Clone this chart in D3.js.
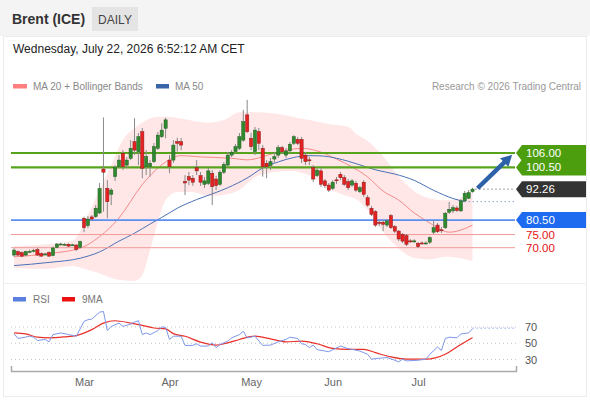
<!DOCTYPE html>
<html>
<head>
<meta charset="utf-8">
<title>Brent (ICE) daily</title>
<script src="https://cdn.jsdelivr.net/npm/d3@7"></script>
<style>
  body { margin: 0; background: #fff; }
  svg { display: block; font-family: "Liberation Sans", Arial, sans-serif; }
</style>
</head>
<body>
<svg id="chart" width="590" height="400"></svg>
<script>
// month labels and the bar number where each month starts
var months = ["Mar", "Apr", "May", "Jun", "Jul"];
var monthBars = [18, 40, 61, 82, 104];

// daily candles, one per trading day (Feb 4 .. Jul 21)
var opens = [67.2,68.5,68.1,67.2,68.5,68.9,69.3,67.8,67.5,68.2,
  67.0,70.1,71.3,71.2,71.3,71.0,71.0,70.1,81.2,78.4,
  81.7,81.8,83.2,99.9,92.6,90.3,97.0,100.8,105.9,101.4,
  104.0,110.3,106.5,114.1,100.8,100.8,102.7,107.8,112.2,115.4,
  103.3,103.3,110.3,110.3,95.2,97.0,96.4,100.4,97.4,94.1,
  94.5,98.3,96.1,94.1,98.7,101.4,105.2,106.5,107.8,110.9,
  120.5,111.6,106.5,114.1,107.8,102.1,101.2,103.7,105.2,108.0,
  105.2,106.8,109.7,111.2,111.2,105.2,103.4,100.4,97.4,99.2,
  95.4,93.8,92.6,95.8,97.9,96.6,95.1,93.8,94.5,91.3,
  94.9,89.0,85.0,83.7,79.6,79.7,78.6,82.2,78.0,76.3,
  75.1,74.6,72.6,72.5,71.7,71.8,71.7,72.1,75.9,78.6,
  76.8,77.6,83.5,84.0,85.1,84.0,87.8,88.8,91.3];
var highs = [69.8,69.0,68.6,68.9,69.3,69.6,70.0,68.2,68.1,68.6,
  70.4,71.8,71.9,71.7,71.7,71.5,71.4,72.7,81.8,82.1,
  82.4,86.2,94.6,119.5,95.7,92.7,101.4,105.2,107.1,104.5,
  110.9,119.2,113.6,115.5,107.1,103.3,109.8,114.0,117.3,119.4,
  105.2,110.9,111.8,111.7,97.6,98.8,97.6,103.3,98.8,96.9,
  100.3,99.5,97.3,99.5,102.6,106.4,107.1,109.4,113.6,122.4,
  126.2,113.6,115.9,115.5,109.0,103.3,104.1,106.4,109.0,108.7,
  107.9,110.2,112.8,112.1,112.1,106.4,104.6,101.4,100.3,100.3,
  96.1,94.6,95.7,96.9,98.8,97.6,96.1,96.1,95.4,93.5,
  95.7,90.0,85.9,84.3,80.5,80.5,80.9,82.8,78.6,76.7,
  75.6,75.2,73.3,73.2,72.2,72.4,72.4,74.4,80.2,79.4,
  77.9,83.6,87.4,86.2,85.9,88.5,91.6,91.9,92.8];
var lows = [66.5,66.8,66.4,66.9,68.0,68.2,66.9,66.5,67.1,66.5,
  66.7,69.8,70.9,70.8,70.3,70.7,68.7,69.8,75.9,77.5,
  80.2,81.3,82.8,83.7,81.2,86.2,95.4,100.3,99.5,100.3,
  103.3,105.2,101.4,96.4,97.6,97.0,102.2,107.1,111.7,111.6,
  98.3,102.2,106.5,107.1,90.0,93.8,93.5,97.6,93.5,92.7,
  93.8,86.2,91.9,93.5,98.0,100.7,104.5,106.0,107.1,110.2,
  113.6,107.1,105.2,107.1,97.0,96.4,99.5,102.2,104.1,105.6,
  104.1,106.0,109.0,109.0,102.2,101.4,101.4,95.0,96.9,93.1,
  92.7,91.2,91.9,94.2,95.7,93.5,91.9,93.1,91.2,90.8,
  89.3,85.5,82.1,77.9,78.2,76.3,77.9,77.1,75.6,72.5,
  71.8,70.6,71.8,71.8,69.9,71.2,71.2,71.4,75.2,75.6,
  75.6,77.1,82.8,83.2,83.6,83.6,87.4,88.5,90.9];
var closes = [69.1,67.2,66.8,68.5,68.6,69.0,67.2,66.8,67.6,66.8,
  69.9,71.4,71.4,71.3,70.6,71.1,69.4,72.3,77.6,80.9,
  80.9,85.0,92.5,98.7,87.5,91.9,100.4,103.3,100.8,103.3,
  107.8,107.1,112.2,100.2,104.6,102.1,108.4,112.8,114.7,118.6,
  100.8,109.0,109.7,109.0,94.6,95.7,94.9,99.2,94.9,95.4,
  99.2,93.2,93.6,98.7,101.7,105.2,106.3,108.4,112.2,117.9,
  114.1,108.4,114.7,109.7,100.8,100.8,102.7,104.6,108.0,106.5,
  106.8,109.3,112.2,109.7,104.0,102.7,103.3,96.1,99.5,94.1,
  93.6,91.9,94.9,95.7,96.6,94.1,92.8,95.4,91.9,92.8,
  90.3,86.2,82.7,78.6,79.4,78.9,80.2,77.6,76.3,73.3,
  72.5,71.3,72.5,72.6,70.4,71.7,71.8,73.8,77.6,76.1,
  76.7,83.1,84.6,85.2,84.1,87.8,90.7,90.9,92.26];

// moving averages, [bar, value]
var ma20 = [[0,66.5],[9,67.8],[17,69.8],[22,74.2],[27,81.3],[33,94.0],[38,101.5],[43,105.0],
  [48,104.5],[56,104.0],[60,103.4],[67,105.9],[74,107.8],[78,106.8],[83,103.7],[87,100.7],
  [91,96.9],[95,91.5],[99,88.1],[103,83.2],[107,79.4],[110,76.7],[112,75.9],[115,76.7],[118,78.6]];
var ma50 = [[0,63.2],[9,64.4],[17,66.0],[22,68.4],[27,72.5],[31,75.5],[35,79.0],[38,81.5],
  [42,85.0],[47,88.3],[52,91.0],[55,92.8],[60,96.5],[64,100.3],[68,102.6],[72,104.3],
  [76,105.0],[79,104.9],[83,104.0],[89,101.5],[93,99.6],[98,98.0],[103,95.6],[108,91.8],
  [113,88.7],[116,87.5]];

// Bollinger bands
var bandBars = [0,8,15,19,22,25,28,31,33,35,37,39,42,46,50,54,58,62,67,71,76,81,86,88,91,94,97,100,103,107,111,115,118];
var bandUpper = [70.6,71.2,72.6,82.4,91.9,101.4,110.9,115.5,117.5,119.2,119.8,119.8,119.4,118.3,117.5,118.5,121.5,121.5,121.0,120.0,118.5,117.0,116.0,113.3,110.6,106.5,101.0,95.5,91.5,88.8,88.0,89.0,91.5];
var bandLower = [62.3,61.9,63.0,61.5,60.3,58.5,57.6,57.3,59.6,69.1,79.8,88.1,91.2,91.2,89.6,90.0,92.0,96.8,98.8,99.2,97.5,92.5,89.5,88.5,84.3,78.0,72.5,68.5,66.1,65.6,66.6,66.0,64.9];

// RSI and its 9 day average, [bar, value]
var rsi = [[0,61.5],[1,56],[2,56.7],[4,58.7],[5,57.5],[6,53.5],[8,54.7],[9,51.8],[10,60.7],[12,62.7],
  [14,60.7],[16,58.7],[18,76.9],[19,78.9],[20,79.7],[22,88.2],[23,89],[24,65.6],[25,70.8],[27,74.8],
  [28,70.8],[30,73.6],[31,76.1],[32,77.7],[33,60.7],[34,62.7],[35,60.7],[37,65.6],[38,70],[39,69.6],
  [40,54.7],[41,58.7],[43,58.7],[44,47.4],[46,47.4],[47,49.4],[48,46.6],[50,46.6],[51,50.6],[52,44.6],
  [53,48.6],[55,52.6],[56,56.7],[58,60.7],[59,64.8],[60,56.7],[62,58.7],[64,47.4],[66,47.8],[68,51.8],
  [70,54.7],[71,57.5],[73,55.9],[74,49.4],[75,48.6],[76,44.6],[77,47.8],[78,42.2],[80,40.5],[81,39.7],
  [84,46.6],[86,43.4],[87,42.6],[89,40.5],[91,36.5],[92,30.5],[94,31.7],[96,32.5],[98,29.2],[99,27.2],
  [100,30.5],[101,28.4],[104,29.2],[106,30.5],[107,36.5],[109,45.4],[110,41.3],[111,55.9],[112,57.5],
  [114,56.7],[115,61.5],[117,62.7],[118,67.6]];
var rsiMa = [[0,62.7],[3,61.5],[6,57.5],[9,56.7],[13,57.9],[16,59.5],[20,66.8],[23,74.8],[26,77.7],
  [30,74.8],[33,72],[36,68.8],[39,67.6],[41,61.9],[44,58.7],[48,51.4],[52,47.8],[55,50.6],[58,54.7],
  [62,58.7],[66,55.5],[70,51.8],[74,52.6],[78,49.4],[82,43.8],[86,42.6],[90,42.6],[93,38.5],[97,33.3],
  [101,30.5],[106,30.5],[111,36.5],[115,48.6],[118,57]];

// key levels
var resistances = [106.00, 100.50];
var lastPrice = 92.26;
var pivot = 80.50;
var supports = [75.00, 70.00];
var rsiLevels = [70, 50, 30];
// expected move: from [bar, price] to [bar, price]
var arrowFrom = [119.3, 92.6], arrowTo = [128.2, 105.3];

var svg = d3.select("#chart");
var left = 11, right = 516;

var x = d3.scaleLinear().domain([-0.8, 129.2]).range([left, right]);
var y = d3.scaleLinear().domain([70, 106]).range([247.7, 153]);
var ry = d3.scaleLinear().domain([30, 70]).range([359.6, 327]);

// header
svg.append("rect").attr("width", 590).attr("height", 36).attr("fill", "#f4f4f4");
svg.append("rect").attr("x", 3.5).attr("y", 36.5).attr("width", 583).attr("height", 360)
  .attr("fill", "none").attr("stroke", "#ececec");
svg.append("line").attr("x1", 3.5).attr("x2", 586.5).attr("y1", 283.5).attr("y2", 283.5).attr("stroke", "#f0f0f0");
svg.append("text").attr("x", 12).attr("y", 24).attr("font-size", 14).attr("font-weight", "bold")
  .attr("fill", "#333").text("Brent (ICE)");
svg.append("rect").attr("x", 92).attr("y", 7).attr("width", 46).attr("height", 24).attr("fill", "#e4e4e4");
svg.append("text").attr("x", 115).attr("y", 23.5).attr("text-anchor", "middle").attr("font-size", 12)
  .attr("fill", "#444").text("DAILY");
svg.append("text").attr("x", 13).attr("y", 53).attr("font-size", 12).attr("fill", "#222")
  .text("Wednesday, July 22, 2026 6:52:12 AM CET");

// legend
svg.append("rect").attr("x", 13).attr("y", 84).attr("width", 14).attr("height", 4.5).attr("fill", "#ff8080");
svg.append("text").attr("x", 33).attr("y", 90).attr("font-size", 10).attr("fill", "#888").text("MA 20 + Bollinger Bands");
svg.append("rect").attr("x", 156).attr("y", 84).attr("width", 13).attr("height", 4.5).attr("fill", "#3a64a8");
svg.append("text").attr("x", 175).attr("y", 90).attr("font-size", 10).attr("fill", "#888").text("MA 50");
svg.append("text").attr("x", 581).attr("y", 90).attr("text-anchor", "end").attr("font-size", 10)
  .attr("fill", "#999").text("Research \u00a9 2026 Trading Central");

// bands and averages
var band = d3.area().curve(d3.curveMonotoneX)
  .x(function(d, k) { return x(bandBars[k]); })
  .y0(function(d, k) { return y(bandLower[k]); })
  .y1(function(d, k) { return y(bandUpper[k]); });
svg.append("path").datum(bandBars).attr("d", band).attr("fill", "#ffe7e7");

var pairLine = d3.line().curve(d3.curveMonotoneX)
  .x(function(d) { return x(d[0]); }).y(function(d) { return y(d[1]); });
svg.append("path").datum(ma20).attr("d", pairLine).attr("fill", "none").attr("stroke", "#f58a8a").attr("stroke-width", 1);
svg.append("path").datum(ma50).attr("d", pairLine).attr("fill", "none").attr("stroke", "#4a72b8").attr("stroke-width", 1);

// horizontal levels
svg.selectAll(".res").data(resistances).enter().append("line").attr("class", "res")
  .attr("x1", left).attr("x2", right - 1).attr("y1", function(d) { return y(d); }).attr("y2", function(d) { return y(d); })
  .attr("stroke", "#58a31c").attr("stroke-width", 2.2);
svg.append("line").attr("x1", left).attr("x2", right - 1).attr("y1", y(pivot)).attr("y2", y(pivot))
  .attr("stroke", "#5a8ff0").attr("stroke-width", 1.6);
svg.selectAll(".sup").data(supports).enter().append("line").attr("class", "sup")
  .attr("x1", left).attr("x2", right - 1).attr("y1", function(d) { return y(d); }).attr("y2", function(d) { return y(d); })
  .attr("stroke", "#f29a9a").attr("stroke-width", 1);

// candles
var bars = d3.range(closes.length);
var candle = svg.append("g").selectAll("g").data(bars).enter().append("g");
candle.append("line")
  .attr("x1", function(i) { return x(i); }).attr("x2", function(i) { return x(i); })
  .attr("y1", function(i) { return y(highs[i]); }).attr("y2", function(i) { return y(lows[i]); })
  .attr("stroke", "#8a8a8a").attr("stroke-width", 1);
candle.append("rect")
  .attr("x", function(i) { return x(i) - 1.6; }).attr("width", 3.2)
  .attr("y", function(i) { return y(Math.max(opens[i], closes[i])); })
  .attr("height", function(i) { return Math.max(1, Math.abs(y(opens[i]) - y(closes[i]))); })
  .attr("fill", function(i) { return closes[i] >= opens[i] ? "#2f8a2f" : "#e42222"; })
  .attr("stroke", function(i) { return closes[i] >= opens[i] ? "#235f23" : "#8d1a1a"; })
  .attr("stroke-width", 0.5);

// projections to the right edge
var lastBar = closes.length - 1;
svg.append("line").attr("x1", x(lastBar) + 3).attr("x2", right - 1).attr("y1", y(lastPrice)).attr("y2", y(lastPrice))
  .attr("stroke", "#444").attr("stroke-dasharray", "1,3");
var ma50Last = ma50[ma50.length - 1];
svg.append("line").attr("x1", x(ma50Last[0])).attr("x2", right - 1).attr("y1", y(ma50Last[1])).attr("y2", y(ma50Last[1]))
  .attr("stroke", "#4a72b8").attr("stroke-dasharray", "1,3");

// price tags
function tag(v, fill) {
  var yy = y(v), h = 16;
  svg.append("path").attr("d", "M" + right + "," + yy + "L" + (right + 6) + "," + (yy - h / 2) + "H586V" + (yy + h / 2) + "H" + (right + 6) + "Z")
    .attr("fill", fill);
  svg.append("text").attr("x", 526).attr("y", yy + 4).attr("font-size", 11.5).attr("fill", "#fff").text(v.toFixed(2));
}
resistances.forEach(function(v) { tag(v, "#4d9e0f"); });
tag(lastPrice, "#333");
tag(pivot, "#1f6bf0");
supports.forEach(function(v) {
  svg.append("text").attr("x", 526).attr("y", y(v) + 4).attr("font-size", 11.5).attr("fill", "#e51414").text(v.toFixed(2));
});

// arrow
var ax0 = x(arrowFrom[0]), ay0 = y(arrowFrom[1]), ax1 = x(arrowTo[0]), ay1 = y(arrowTo[1]);
var dx = ax1 - ax0, dy = ay1 - ay0, len = Math.sqrt(dx * dx + dy * dy), ux = dx / len, uy = dy / len;
var bx = ax1 - ux * 11, by = ay1 - uy * 11;
svg.append("line").attr("x1", ax0).attr("y1", ay0).attr("x2", bx + ux * 2).attr("y2", by + uy * 2)
  .attr("stroke", "#2e62a8").attr("stroke-width", 4.5);
svg.append("path").attr("d", "M" + ax1 + "," + ay1 + "L" + (bx - uy * 6) + "," + (by + ux * 6) + "L" + (bx + uy * 6) + "," + (by - ux * 6) + "Z")
  .attr("fill", "#2e62a8");

// RSI panel
svg.append("rect").attr("x", 13).attr("y", 297).attr("width", 13).attr("height", 4.5).attr("fill", "#5b7fe0");
svg.append("text").attr("x", 33).attr("y", 302.5).attr("font-size", 10).attr("fill", "#777").text("RSI");
svg.append("rect").attr("x", 62).attr("y", 297).attr("width", 13).attr("height", 4.5).attr("fill", "#ee1111");
svg.append("text").attr("x", 82).attr("y", 302.5).attr("font-size", 10).attr("fill", "#777").text("9MA");

svg.selectAll(".lvl").data(rsiLevels).enter().append("line").attr("class", "lvl")
  .attr("x1", left).attr("x2", right).attr("y1", function(d) { return ry(d); }).attr("y2", function(d) { return ry(d); })
  .attr("stroke", "#c4c4c4").attr("stroke-dasharray", "1,3");
svg.selectAll(".lvlt").data(rsiLevels).enter().append("text").attr("class", "lvlt")
  .attr("x", 525).attr("y", function(d) { return ry(d) + 4; }).attr("font-size", 11).attr("fill", "#555")
  .text(function(d) { return d; });

var rsiLine = d3.line().x(function(d) { return x(d[0]); }).y(function(d) { return ry(d[1]); });
svg.append("path").datum(rsiMa).attr("d", rsiLine.curve(d3.curveMonotoneX)).attr("fill", "none")
  .attr("stroke", "#e8302a").attr("stroke-width", 1.2);
svg.append("path").datum(rsi).attr("d", rsiLine.curve(d3.curveLinear)).attr("fill", "none")
  .attr("stroke", "#7d98ea").attr("stroke-width", 1);
var rsiLast = rsi[rsi.length - 1];
svg.append("line").attr("x1", x(rsiLast[0])).attr("x2", right).attr("y1", ry(rsiLast[1] + 1)).attr("y2", ry(rsiLast[1] + 1))
  .attr("stroke", "#8aa3ee").attr("stroke-dasharray", "1.5,2.5");

// time axis
var xAxis = d3.axisBottom(x).tickValues(monthBars)
  .tickFormat(function(d, k) { return months[k]; })
  .tickSizeInner(0).tickSizeOuter(-5).tickPadding(7);
var axis = svg.append("g").attr("transform", "translate(0,371)").call(xAxis);
axis.select(".domain").attr("stroke", "#aaa").attr("stroke-width", 1.5);
axis.selectAll("text").attr("fill", "#666").style("font-size", "11px")
  .style("font-family", "\"Liberation Sans\", Arial, sans-serif");
</script>
</body>
</html>
